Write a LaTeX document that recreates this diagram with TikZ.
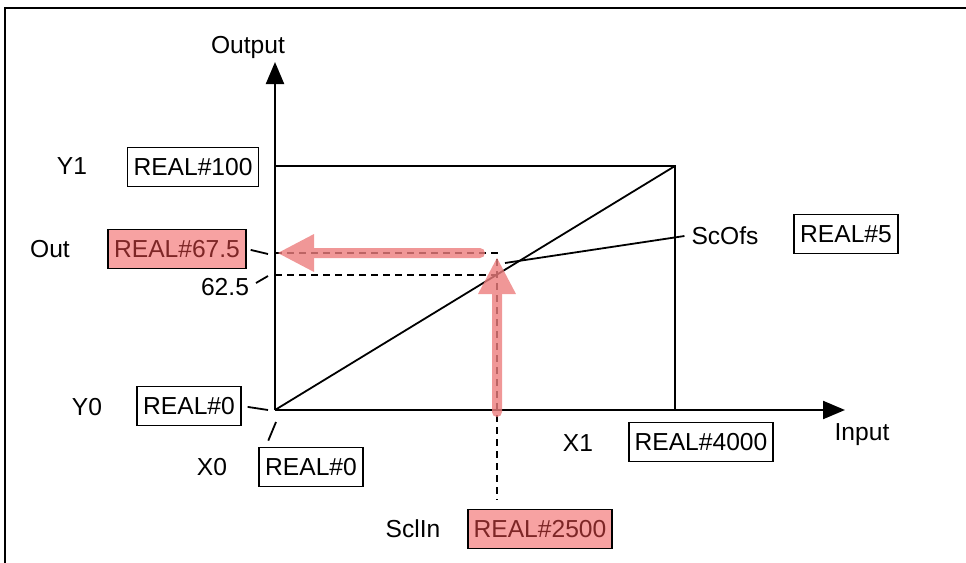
\documentclass[tikz,border=0pt]{standalone}
\usepackage{fontspec}
\setmainfont{Liberation Sans}
\usepackage{xcolor}
\usetikzlibrary{arrows.meta}
\definecolor{hlred}{RGB}{236,125,125}
\definecolor{hlfill}{RGB}{247,162,162}
\definecolor{hltext}{RGB}{125,38,38}

\begin{document}
\begin{tikzpicture}[x=0.5pt, y=-0.5pt,
    font=\fontsize{12.3}{14}\selectfont,
    valbox/.style={draw, line width=0.9pt, inner xsep=3pt, minimum height=19.5pt},
    hlbox/.style={valbox, fill=hlfill, text=hltext},
    guide/.style={line width=0.9pt, dash pattern=on 3.5pt off 2.5pt},
    hlarrow/.style={draw=hlred, line width=5pt, line cap=round,
      -{Triangle[length=18.5pt,width=17.5pt,fill=hlred]}}]
    \useasboundingbox (0,0) rectangle (966,563);
    \draw[line width=1pt] (5,563) -- (5,8) -- (966,8);
    % axes and scaling box
    \coordinate (o) at (275,410);
    \coordinate (ytip) at (275,62);
    \coordinate (xtip) at (845,410);
    \coordinate (tr) at (675,166);
    \draw[line width=1.1pt, -{Triangle[length=11pt,width=9pt]}] (o) -- (ytip);
    \draw[line width=1.1pt, -{Triangle[length=11pt,width=9pt]}] (o) -- (xtip);
    \draw[line width=0.9pt] (tr -| o) -- (tr) -- (tr |- o);
    \draw[line width=0.9pt] (o) -- (tr);
    \node (outputlbl) at (248,47) {Output};
    \node (inputlbl) at (862,435) {Input};
    % working point
    \coordinate (hit) at (497,253);
    \coordinate (cross) at (497,275);
    \coordinate (dashend) at (497,500);
    \coordinate (uptip) at (497,257);
    \coordinate (ofsend) at (505,263);
    \draw[guide] (hit -| o) -- (hit) -- (dashend);
    \draw[guide] (cross -| o) -- (cross);
    \begin{scope}[transparency group, opacity=0.8]
      \draw[hlarrow] ([xshift=-8.5pt]hit) -- ([xshift=1pt]hit -| o);
    \end{scope}
    \begin{scope}[transparency group, opacity=0.8]
      \draw[hlarrow] ([yshift=-1pt]hit |- o) -- (uptip);
    \end{scope}
    % labels and values
    \node (y1lbl) at (72,166) {Y1};
    \node[valbox] (y1box) at (193,167) {REAL\#100};
    \node (outlbl) at (50,249) {Out};
    \node[hlbox] (outbox) at (177,249) {REAL\#67.5};
    \node (pct) at (225,287) {62.5};
    \node (scofslbl) at (725,236) {ScOfs};
    \node[valbox] (scofsbox) at (846,234) {REAL\#5};
    \node (y0lbl) at (87,407) {Y0};
    \node[valbox] (y0box) at (189,406) {REAL\#0};
    \node (x0lbl) at (212,467) {X0};
    \node[valbox] (x0box) at (311,467) {REAL\#0};
    \node (x1lbl) at (578,443) {X1};
    \node[valbox] (x1box) at (701,442) {REAL\#4000};
    \node (sclinlbl) at (413,529) {SclIn};
    \node[hlbox] (sclinbox) at (540,529) {REAL\#2500};
    % leader lines
    \coordinate (outtick) at (268,254);
    \coordinate (pcttick) at (268,276);
    \coordinate (y0tick) at (268,410);
    \coordinate (x0tick) at (276,422);
    \draw[line width=0.9pt, shorten <=2pt] (outbox.east) -- (outtick);
    \draw[line width=0.9pt] ([yshift=2pt]pct.east) -- (pcttick);
    \draw[line width=0.9pt, shorten <=3pt] (y0box.east) -- (y0tick);
    \draw[line width=0.9pt] (x0tick) -- ([xshift=5pt,yshift=3pt]x0box.north west);
    \draw[line width=0.9pt] (ofsend) -- (scofslbl.west);
  \end{tikzpicture}
\end{document}
